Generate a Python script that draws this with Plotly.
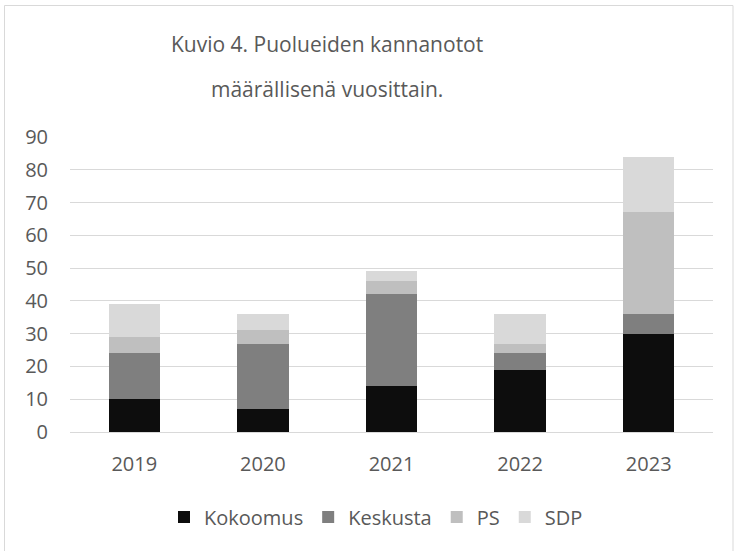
import plotly.graph_objects as go

years = ["2019", "2020", "2021", "2022", "2023"]
kokoomus = [10, 7, 14, 19, 30]
keskusta = [14, 20, 28, 5, 6]
ps = [5, 4, 4, 3, 31]
sdp = [10, 5, 3, 9, 17]

series = [("Kokoomus", kokoomus, "#0d0d0d"),
          ("Keskusta", keskusta, "#7f7f7f"),
          ("PS", ps, "#bfbfbf"),
          ("SDP", sdp, "#d9d9d9")]

FONT = "Open Sans"
TXT = "#595959"

fig = go.Figure()
for name, vals, col in series:
    fig.add_trace(go.Bar(x=years, y=vals, name=name, marker=dict(color=col, line=dict(width=0))))

W, H = 734, 551
L, R, T, B = 70, 21, 137, 119
pw, ph = W - L - R, H - T - B

def px(x):
    return (x - L) / pw

def py(y):
    return (H - B - y) / ph

fig.update_layout(
    width=W, height=H,
    margin=dict(l=L, r=R, t=T, b=B, autoexpand=False),
    barmode="stack", bargap=0.6,
    paper_bgcolor="white", plot_bgcolor="white",
    font=dict(family=FONT, color=TXT, size=20),
    showlegend=True,
    legend=dict(orientation="h", x=px(376), xanchor="center", y=py(517), yanchor="middle",
                font=dict(size=20, color=TXT), traceorder="normal", itemwidth=30),
    xaxis=dict(showgrid=False, showline=True, linecolor="#d9d9d9", linewidth=1,
               ticks="", tickfont=dict(size=20, color=TXT), ticklabelstandoff=14),
    yaxis=dict(range=[0, 90], dtick=10, showgrid=True, gridcolor="#d9d9d9", gridwidth=1,
               zeroline=False, showline=False, ticks="", tickfont=dict(size=20, color=TXT),
               ticklabelstandoff=21),
    annotations=[
        dict(text="Kuvio 4. Puolueiden kannanotot", x=px(327), y=py(44), xref="paper", yref="paper",
             showarrow=False, font=dict(size=21, color=TXT, family=FONT), xanchor="center", yanchor="middle"),
        dict(text="määrällisenä vuosittain.", x=px(327), y=py(89), xref="paper", yref="paper",
             showarrow=False, font=dict(size=21, color=TXT, family=FONT), xanchor="center", yanchor="middle"),
    ],
    shapes=[dict(type="rect", xref="paper", yref="paper",
                 x0=px(4.5), x1=px(733), y0=py(600), y1=py(5.5),
                 line=dict(color="#d9d9d9", width=1), layer="below")],
)

fig.write_html("out.html", config={"displayModeBar": False},
               post_script="document.body.style.margin='0';document.body.style.overflow='hidden';")
